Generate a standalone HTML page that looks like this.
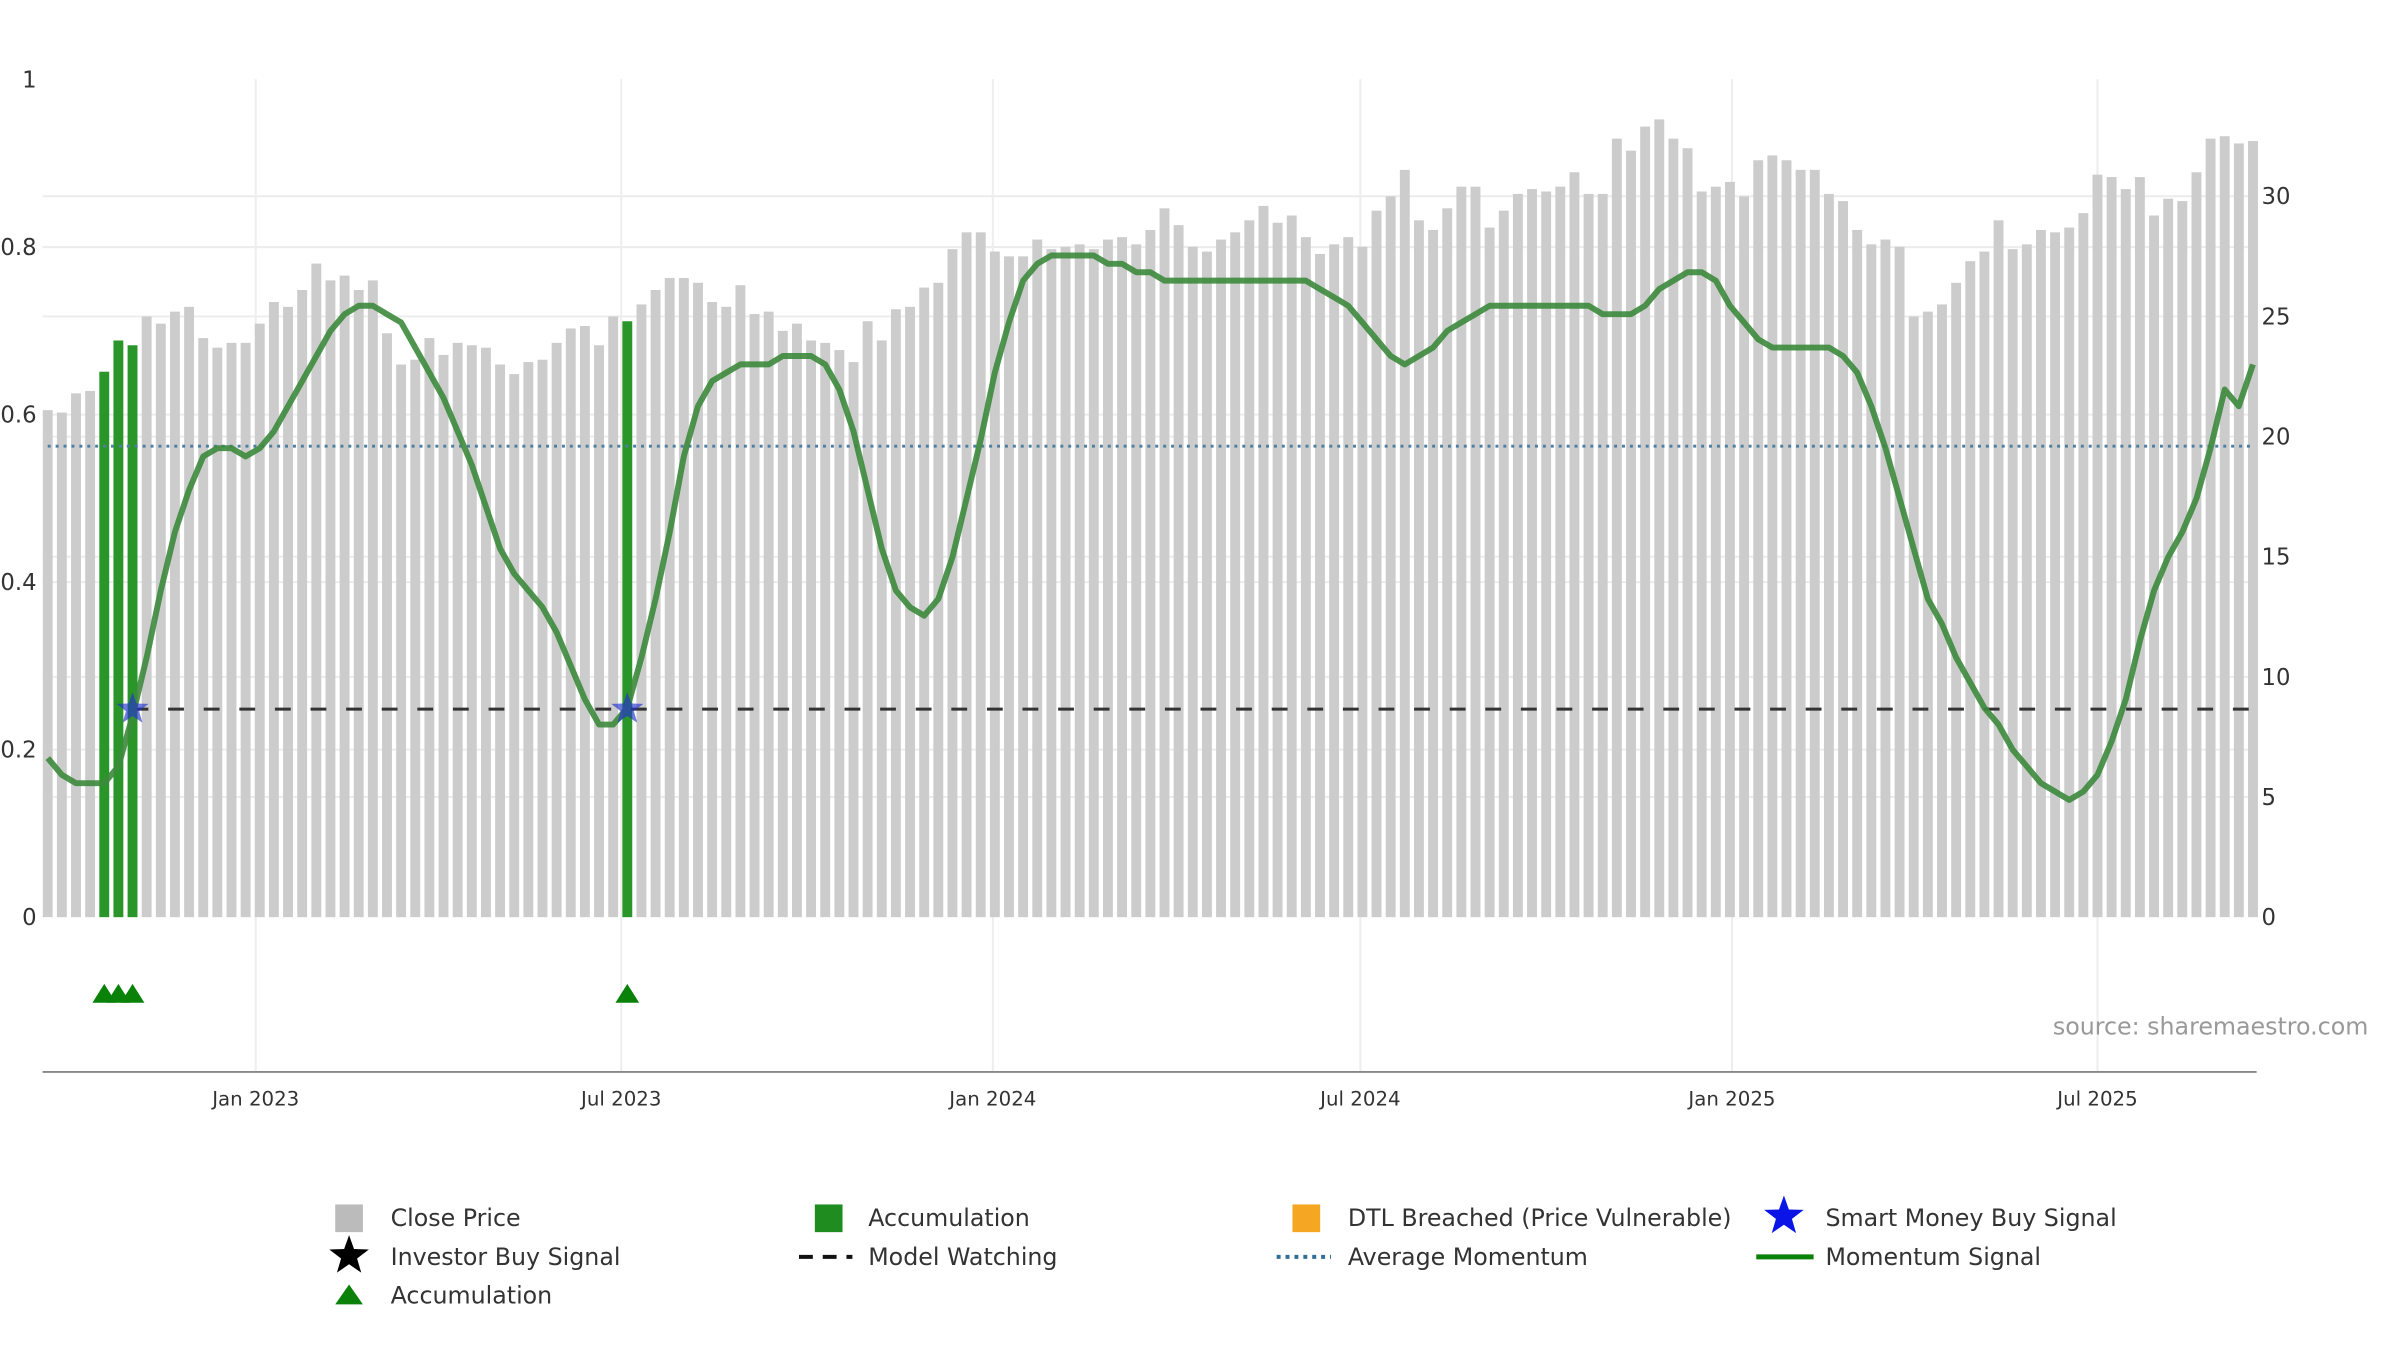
<!DOCTYPE html>
<html><head><meta charset="utf-8"><style>
html,body{margin:0;padding:0;background:#fff;}
svg{display:block;font-family:"DejaVu Sans","Liberation Sans",sans-serif;}
</style></head><body>
<svg id="chart" width="2400" height="1350" viewBox="0 0 2427 1365" preserveAspectRatio="xMinYMin meet" xmlns="http://www.w3.org/2000/svg">
<g id="grid"></g>
<g id="bars"></g>
<g id="lines"></g>
<g id="axes"></g>
<text x="2395" y="1046" text-anchor="end" font-size="24" fill="#999">source: sharemaestro.com</text>
<g id="legend"></g>
</svg>
<script>
const startDate = "2022-09-20";
const closePrice = [21.1,21.0,21.8,21.9,22.7,24.0,23.8,25.0,24.7,25.2,
25.4,24.1,23.7,23.9,23.9,24.7,25.6,25.4,26.1,27.2,
26.5,26.7,26.1,26.5,24.3,23.0,23.2,24.1,23.4,23.9,
23.8,23.7,23.0,22.6,23.1,23.2,23.9,24.5,24.6,23.8,
25.0,24.8,25.5,26.1,26.6,26.6,26.4,25.6,25.4,26.3,
25.1,25.2,24.4,24.7,24.0,23.9,23.6,23.1,24.8,24.0,
25.3,25.4,26.2,26.4,27.8,28.5,28.5,27.7,27.5,27.5,
28.2,27.8,27.9,28.0,27.8,28.2,28.3,28.0,28.6,29.5,
28.8,27.9,27.7,28.2,28.5,29.0,29.6,28.9,29.2,28.3,
27.6,28.0,28.3,27.9,29.4,30.0,31.1,29.0,28.6,29.5,
30.4,30.4,28.7,29.4,30.1,30.3,30.2,30.4,31.0,30.1,
30.1,32.4,31.9,32.9,33.2,32.4,32.0,30.2,30.4,30.6,
30.0,31.5,31.7,31.5,31.1,31.1,30.1,29.8,28.6,28.0,
28.2,27.9,25.0,25.2,25.5,26.4,27.3,27.7,29.0,27.8,
28.0,28.6,28.5,28.7,29.3,30.9,30.8,30.3,30.8,29.2,
29.9,29.8,31.0,32.4,32.5,32.2,32.3];
const momentum = [0.19,0.17,0.16,0.16,0.16,0.18,0.24,0.31,0.39,0.46,
0.51,0.55,0.56,0.56,0.55,0.56,0.58,0.61,0.64,0.67,
0.70,0.72,0.73,0.73,0.72,0.71,0.68,0.65,0.62,0.58,
0.54,0.49,0.44,0.41,0.39,0.37,0.34,0.30,0.26,0.23,
0.23,0.25,0.31,0.38,0.46,0.55,0.61,0.64,0.65,0.66,
0.66,0.66,0.67,0.67,0.67,0.66,0.63,0.58,0.51,0.44,
0.39,0.37,0.36,0.38,0.43,0.50,0.57,0.65,0.71,0.76,
0.78,0.79,0.79,0.79,0.79,0.78,0.78,0.77,0.77,0.76,
0.76,0.76,0.76,0.76,0.76,0.76,0.76,0.76,0.76,0.76,
0.75,0.74,0.73,0.71,0.69,0.67,0.66,0.67,0.68,0.70,
0.71,0.72,0.73,0.73,0.73,0.73,0.73,0.73,0.73,0.73,
0.72,0.72,0.72,0.73,0.75,0.76,0.77,0.77,0.76,0.73,
0.71,0.69,0.68,0.68,0.68,0.68,0.68,0.67,0.65,0.61,
0.56,0.50,0.44,0.38,0.35,0.31,0.28,0.25,0.23,0.20,
0.18,0.16,0.15,0.14,0.15,0.17,0.21,0.26,0.33,0.39,
0.43,0.46,0.50,0.56,0.63,0.61,0.66];
const accumulationIdx = [4,5,6,41];
const smartMoneyIdx = [6,41];
const avgMomentum = 19.6;
const modelWatching = 8.66;
const xTickLabels = ["Jan 2023","Jul 2023","Jan 2024","Jul 2024","Jan 2025","Jul 2025"];
const xTickDates = ["2023-01-01","2023-07-01","2024-01-01","2024-07-01","2025-01-01","2025-07-01"];
const leftTicks = [0,0.2,0.4,0.6,0.8,1];
const leftTickLabels = ["0","0.2","0.4","0.6","0.8","1"];
const rightTicks = [0,5,10,15,20,25,30];

const NS="http://www.w3.org/2000/svg";
const PL=43, PR=2282, Y0=927.5;
const DAY=86400000, REF=Date.UTC(2023,0,1);
function xDate(d){return 258.6+((d-REF)/DAY)*2.0422;}
function xIdx(i){return xDate(Date.parse(startDate)+i*7*DAY);}
function yL(v){return Y0-v*847;}
function yR(v){return Y0-v*24.3;}
function mk(tag,attrs,parent){const e=document.createElementNS(NS,tag);for(const k in attrs)e.setAttribute(k,attrs[k]);parent.appendChild(e);return e;}
const grid=document.getElementById('grid'),bars=document.getElementById('bars'),lines=document.getElementById('lines'),axes=document.getElementById('axes'),legend=document.getElementById('legend');

leftTicks.forEach((v,i)=>{
  if(v>0&&v<1){const l=mk('line',{x1:PL,x2:PR,y1:yL(v),y2:yL(v),stroke:'#ececec','stroke-width':2},grid);
  
  }
  const t=mk('text',{x:37,y:yL(v)+8,'text-anchor':'end','font-size':23,fill:'#333'},axes);
  t.textContent=leftTickLabels[i];
  
  
});
rightTicks.forEach(v=>{
  if(v>0){const l=mk('line',{x1:PL,x2:PR,y1:yR(v),y2:yR(v),stroke:'#ececec','stroke-width':2},grid);
  
  }
  const t=mk('text',{x:2287,y:yR(v)+8,'font-size':23,fill:'#333'},axes);
  t.textContent=String(v);
  
  
});
xTickDates.forEach((d,i)=>{
  const x=xDate(Date.parse(d));
  const g=mk('line',{x1:x,x2:x,y1:80,y2:1084,stroke:'#eeeeee','stroke-width':2},grid);
  
  
  const t=mk('text',{x:x,y:1118,'text-anchor':'middle','font-size':20,fill:'#333'},axes);
  t.textContent=xTickLabels[i];
  
  
});
const ax=mk('line',{x1:PL,x2:PR,y1:1084,y2:1084,stroke:'#888','stroke-width':2},axes);



closePrice.forEach((v,i)=>{
  const acc=accumulationIdx.includes(i);
  const x=xIdx(i);
  const r=mk('rect',{x:x-5,y:yR(v),width:10,height:Y0-yR(v),fill:acc?'#2a962a':'#cccccc'},bars);
  
  
});

const av=mk('line',{x1:xIdx(0),x2:xIdx(closePrice.length-1),y1:yR(avgMomentum),y2:yR(avgMomentum),stroke:'#4f7fa0','stroke-width':3,'stroke-dasharray':'3,5'},lines);


const mw=mk('line',{x1:xIdx(smartMoneyIdx[0]),x2:xIdx(closePrice.length-1),y1:yR(modelWatching),y2:yR(modelWatching),stroke:'#333','stroke-width':3,'stroke-dasharray':'16,20'},lines);



let d='';
momentum.forEach((v,i)=>{d+=(i?'L':'M')+xIdx(i).toFixed(1)+','+yL(v).toFixed(1);});
const ml=mk('path',{d:d,fill:'none',stroke:'#3c8a3c','stroke-width':6,'stroke-linejoin':'round','stroke-opacity':0.9},lines);



function starPts(cx,cy,R,r){let p=[];for(let k=0;k<10;k++){const a=-Math.PI/2+k*Math.PI/5;const rr=k%2?r:R;p.push((cx+rr*Math.cos(a)).toFixed(1)+','+(cy+rr*Math.sin(a)).toFixed(1));}return p.join(' ');}
smartMoneyIdx.forEach(i=>{
  const s=mk('polygon',{points:starPts(xIdx(i),yR(modelWatching),17,7),fill:'#2233cc','fill-opacity':0.65},lines);
  
  
});
accumulationIdx.forEach(i=>{
  const x=xIdx(i),y=1005;
  const t=mk('polygon',{points:`${x-12},${y+9} ${x+12},${y+9} ${x},${y-10}`,fill:'#0a820a'},lines);
  
  
});

function legText(x,y,s){const t=mk('text',{x:x,y:y+8,'font-size':24,fill:'#333'},legend);t.textContent=s;}
const r1=1232,r2=1271,r3=1310;
let e;
e=mk('rect',{x:339,y:r1-14,width:28,height:28,fill:'#bbbbbb'},legend);legText(395,r1,'Close Price');
e=mk('rect',{x:824,y:r1-14,width:28,height:28,fill:'#1e8c1e'},legend);legText(878,r1,'Accumulation');
e=mk('rect',{x:1307,y:r1-14,width:28,height:28,fill:'#f5a623'},legend);legText(1363,r1,'DTL Breached (Price Vulnerable)');
e=mk('polygon',{points:starPts(1804,r1-2,21,8.5),fill:'#0a14e6'},legend);legText(1846,r1,'Smart Money Buy Signal');
e=mk('polygon',{points:starPts(353,r2-1,21,8.5),fill:'#000'},legend);legText(395,r2,'Investor Buy Signal');
e=mk('line',{x1:808,x2:862,y1:r2,y2:r2,stroke:'#111','stroke-width':4,'stroke-dasharray':'14,10'},legend);legText(878,r2,'Model Watching');
e=mk('line',{x1:1291,x2:1346,y1:r2,y2:r2,stroke:'#2f6f95','stroke-width':4,'stroke-dasharray':'4,5'},legend);legText(1363,r2,'Average Momentum');
e=mk('line',{x1:1776,x2:1834,y1:r2,y2:r2,stroke:'#0a820a','stroke-width':5},legend);legText(1846,r2,'Momentum Signal');
e=mk('polygon',{points:`${339},${r3+9} ${367},${r3+9} ${353},${r3-11}`,fill:'#0a820a'},legend);legText(395,r3,'Accumulation');
</script>
</body></html>
